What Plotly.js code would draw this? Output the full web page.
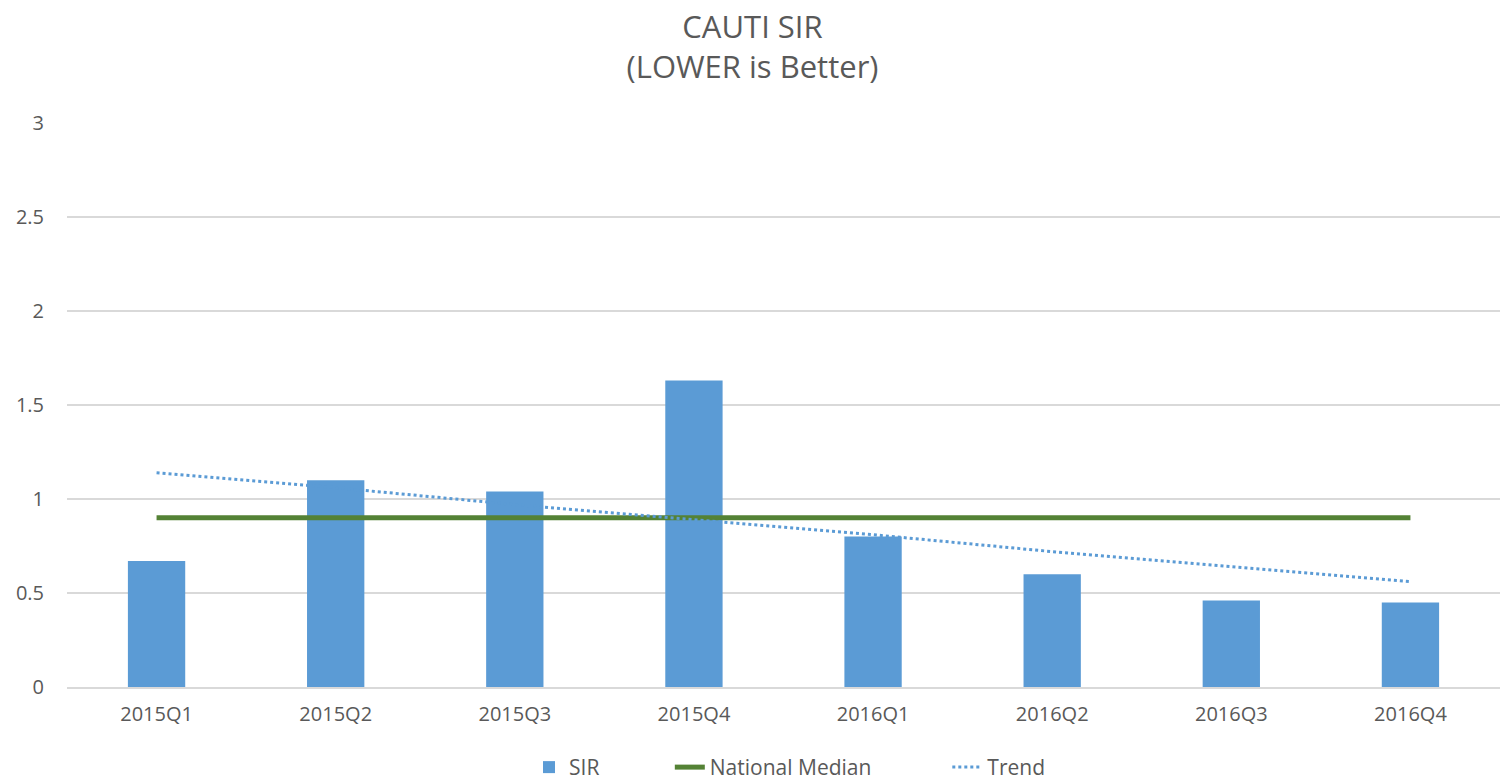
<!DOCTYPE html>
<html>
<head>
<meta charset="utf-8">
<script src="https://cdn.plot.ly/plotly-3.0.1.min.js"></script>
<style>html,body{margin:0;padding:0;background:#fff;}#chart{width:1505px;height:782px;}</style>
</head>
<body>
<div id="chart"></div>
<script>
const categories = ["2015Q1","2015Q2","2015Q3","2015Q4","2016Q1","2016Q2","2016Q3","2016Q4"];
const sirValues = [0.67, 1.10, 1.04, 1.63, 0.80, 0.60, 0.46, 0.45];
const nationalMedian = [0.90, 0.90, 0.90, 0.90, 0.90, 0.90, 0.90, 0.90];
const trendValues = [1.14, 1.06, 0.97, 0.89, 0.81, 0.72, 0.64, 0.56];
const yTicks = [0, 0.5, 1, 1.5, 2, 2.5, 3];

const font = "'Open Sans', 'Noto Sans', sans-serif";
const pad = n => "\u00a0".repeat(n);

const data = [
  {type:"bar", name:"SIR" + pad(12), x:categories, y:sirValues, marker:{color:"#5b9bd5"}, width:0.32},
  {type:"scatter", mode:"lines", name:"National Median" + pad(13), x:categories, y:nationalMedian,
   line:{color:"#548235", width:5}},
  {type:"scatter", mode:"lines", name:"Trend", x:categories, y:trendValues,
   line:{color:"#5b9bd5", width:3, dash:"dot"}}
];

const layout = {
  width:1505, height:782,
  margin:{l:67, r:5, t:123, b:95, autoexpand:false},
  paper_bgcolor:"#fff", plot_bgcolor:"#fff",
  font:{family:font, color:"#595959", size:20},
  title:{text:"CAUTI SIR<br>(LOWER is Better)", x:0.5, xanchor:"center", y:0.9515, yanchor:"middle",
         font:{family:font, size:31, color:"#595959"}},
  showlegend:true,
  legend:{orientation:"h", xref:"container", yref:"container", x:529/1505, xanchor:"left",
          y:0.0448, yanchor:"top", font:{size:21, color:"#595959"}, traceorder:"normal"},
  xaxis:{type:"category", automargin:false, showgrid:false, showline:true, linecolor:"#d9d9d9", linewidth:1.5,
         ticks:"", ticklabelstandoff:8, tickfont:{size:20, color:"#595959"}},
  yaxis:{range:[0,3], automargin:false, tickvals:yTicks, showgrid:true, gridcolor:"#d9d9d9", gridwidth:1.5,
         zeroline:false, showline:false, ticks:"", ticklabelstandoff:22, tickfont:{size:20, color:"#595959"}},
  bargap:0.68
};

Plotly.newPlot("chart", data, layout, {displayModeBar:false, staticPlot:true});
</script>
</body>
</html>
